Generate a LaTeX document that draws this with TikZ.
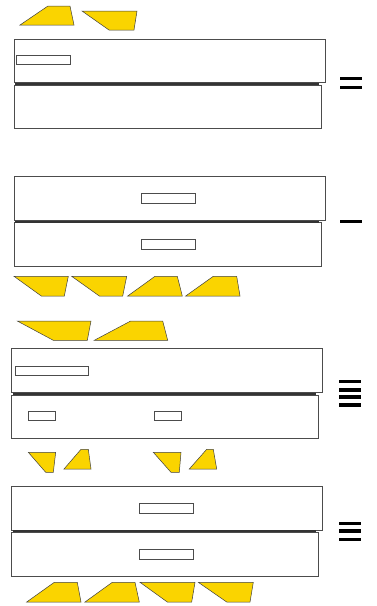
\documentclass[tikz,border=0pt]{standalone}
\definecolor{ylw}{HTML}{FAD400}
\begin{document}
\begin{tikzpicture}[x=1pt,y=-1pt,
  panel/.style={draw=black!70,line width=0.8pt,fill=white},
  slot/.style={draw=black!70,line width=0.7pt,fill=white},
  seam/.style={draw=black!80,line width=2pt},
  wedge/.style={draw=black!75,line width=0.5pt,fill=ylw},
  bar/.style={fill=black}]
\useasboundingbox (0,0) rectangle (376,606);
% ---------- panel 1 ----------
\draw[wedge] (20,25) -- (48,6) -- (70,6) -- (74,25) -- cycle;
\draw[wedge] (82,11) -- (137,11) -- (134,30) -- (109,30) -- cycle;
\draw[panel] (14,39.3) rectangle (325,82.3);
\draw[panel] (14,85) rectangle (321,128.3);
\draw[seam] (15,83.6) -- (319,83.6);
\draw[slot] (16.7,55.3) rectangle (70.3,64.7);
\fill[bar] (340,77.3) rectangle (362,80.3);
\fill[bar] (340,86) rectangle (362,89);
% ---------- panel 2 ----------
\draw[panel] (14,176) rectangle (325,220.3);
\draw[panel] (14,222.7) rectangle (321,266.7);
\draw[seam] (15,221.6) -- (319,221.6);
\draw[slot] (141.7,193.7) rectangle (195.3,203.3);
\draw[slot] (141.7,239.7) rectangle (195.3,249.3);
\fill[bar] (340,220.3) rectangle (362,223.3);
\draw[wedge] (14,276.3) -- (68.3,276.3) -- (64.3,296) -- (41.3,296) -- cycle;
\draw[wedge] (71.7,276.3) -- (126.7,276.3) -- (122.7,296) -- (99.3,296) -- cycle;
\draw[wedge] (127.7,296) -- (155,276.3) -- (177.3,276.3) -- (182.3,296) -- cycle;
\draw[wedge] (185.7,296) -- (213.3,276.3) -- (236.7,276.3) -- (240,296) -- cycle;
% ---------- panel 3 ----------
\draw[wedge] (17.3,321) -- (91,321) -- (87.3,340.3) -- (53.3,340.3) -- cycle;
\draw[wedge] (94.3,340.3) -- (130.7,321) -- (162.7,321) -- (167.7,340.3) -- cycle;
\draw[panel] (11.7,348.7) rectangle (322.3,392.3);
\draw[panel] (11.7,395) rectangle (318.3,438.3);
\draw[seam] (13,393.5) -- (316,393.5);
\draw[slot] (15.7,366) rectangle (88.3,375);
\draw[slot] (28.3,411.3) rectangle (55.7,420.7);
\draw[slot] (154,411.3) rectangle (181.3,420.7);
\fill[bar] (339.3,380) rectangle (361,383.3);
\fill[bar] (339.3,388.2) rectangle (361,391.5);
\fill[bar] (339.3,395.4) rectangle (361,398.7);
\fill[bar] (339.3,403.3) rectangle (361,406.6);
\draw[wedge] (28.3,452.3) -- (55.7,452.3) -- (53.3,472.3) -- (45.7,472.3) -- cycle;
\draw[wedge] (64,469) -- (81,449.3) -- (88.3,449.3) -- (91,469) -- cycle;
\draw[wedge] (153.3,452.3) -- (181,452.3) -- (179.3,472.3) -- (171,472.3) -- cycle;
\draw[wedge] (189.3,469) -- (206.7,449.3) -- (213.3,449.3) -- (216.7,469) -- cycle;
% ---------- panel 4 ----------
\draw[panel] (11.7,486) rectangle (322.3,530.3);
\draw[panel] (11.7,532.7) rectangle (318.3,576.7);
\draw[seam] (13,531.4) -- (316,531.4);
\draw[slot] (139.3,503.7) rectangle (193.3,513);
\draw[slot] (139.3,549.7) rectangle (193.3,559);
\fill[bar] (339.3,521.7) rectangle (361,525);
\fill[bar] (339.3,529.3) rectangle (361,532.6);
\fill[bar] (339.3,537.6) rectangle (361,540.9);
\draw[wedge] (26.7,602) -- (54.3,582.3) -- (77.3,582.3) -- (81,602) -- cycle;
\draw[wedge] (85,602) -- (112.3,582.3) -- (135,582.3) -- (139.3,602) -- cycle;
\draw[wedge] (140,582.3) -- (195,582.3) -- (191.7,602) -- (167.3,602) -- cycle;
\draw[wedge] (198.3,582.3) -- (253.3,582.3) -- (250,602) -- (226.7,602) -- cycle;
\end{tikzpicture}
\end{document}
